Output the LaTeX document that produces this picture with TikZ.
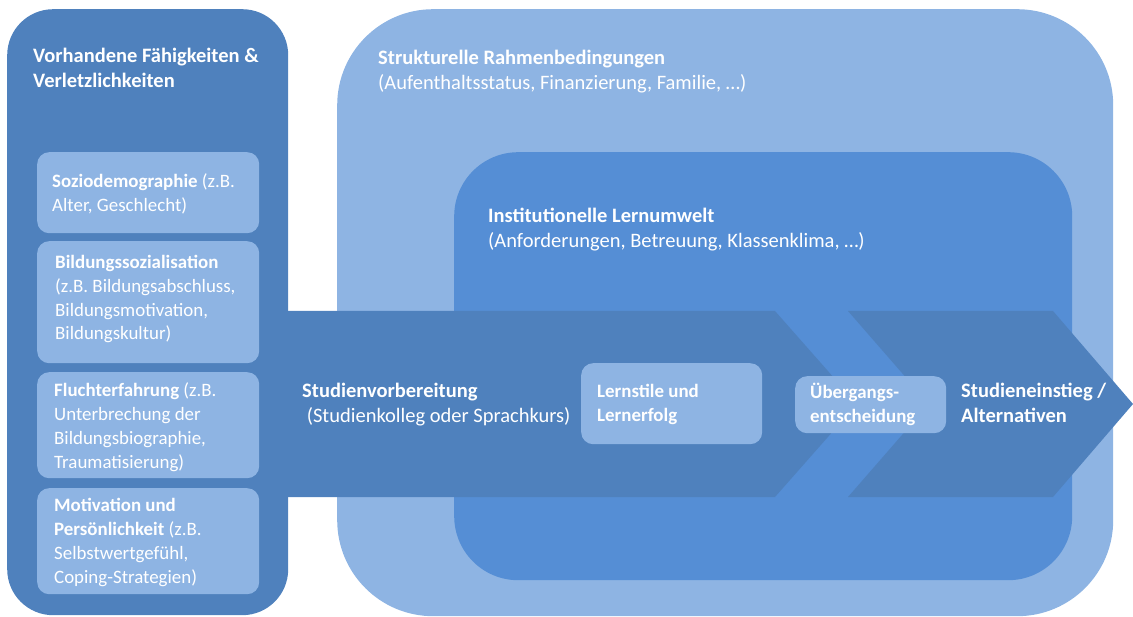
\documentclass[tikz,border=0pt]{standalone}
\usepackage{fontspec}
\setmainfont{Carlito}
\definecolor{darkblue}{HTML}{4F81BD}
\definecolor{midblue}{HTML}{558ED5}
\definecolor{lightblue}{HTML}{8EB4E3}
\begin{document}
\begin{tikzpicture}[x=1pt,y=-1pt,
  panel/.style={fill=#1, draw=none, inner sep=0pt, anchor=north west},
  smallbox/.style={fill=lightblue, draw=none, rounded corners=12pt, inner sep=0pt, anchor=north west},
  txt/.style={text=white, inner sep=0pt, anchor=base west, align=left, font=\fontsize{18.9}{23.7}\selectfont},
  ttl/.style={txt, font=\fontsize{20.5}{25.5}\selectfont}
]
\useasboundingbox (0,0) rectangle (1133,617);

% big panels
\node[panel=lightblue, rounded corners=96pt, minimum width=776pt, minimum height=607pt] (outer) at (337,9) {};
\node[panel=midblue, rounded corners=64pt, minimum width=618pt, minimum height=428pt] (inner) at (454,152) {};
\node[panel=darkblue, rounded corners=46pt, minimum width=281pt, minimum height=606pt] (left) at (7,9) {};

% arrows
\fill[darkblue] (282,311) coordinate (a1) -- (775,311) -- (857,404) coordinate (tip1) -- (775,497) -- (282,497) -- cycle;
\fill[darkblue] (848,311) -- (1053,311) -- (1133,404) coordinate (tip2) -- (1053,497) -- (848,497) -- (929,404) coordinate (notch) -- cycle;

% small boxes
\node[smallbox, minimum width=222pt, minimum height=81pt] (b1) at (37,152) {};
\node[smallbox, minimum width=222pt, minimum height=122pt] (b2) at (37,241) {};
\node[smallbox, minimum width=222pt, minimum height=106pt] (b3) at (37,372) {};
\node[smallbox, minimum width=222pt, minimum height=106pt] (b4) at (37,488) {};
\node[smallbox, minimum width=181pt, minimum height=81pt] (b5) at (581,363) {};
\node[smallbox, minimum width=151pt, minimum height=57pt] (b6) at (795,376) {};

% texts (anchor = baseline of last line)
\node[ttl] (tleft) at (33,88) {\textbf{Vorhandene Fähigkeiten \&}\\\textbf{Verletzlichkeiten}};
\node[txt] (t1) at (52,211.7) {\textbf{Soziodemographie} (z.B.\\Alter, Geschlecht)};
\node[txt] (t2) at (55,340) {\textbf{Bildungssozialisation}\\(z.B. Bildungsabschluss,\\Bildungsmotivation,\\Bildungskultur)};
\node[txt] (t3) at (54,468) {\textbf{Fluchterfahrung} (z.B.\\Unterbrechung der\\Bildungsbiographie,\\Traumatisierung)};
\node[txt] (t4) at (54,583) {\textbf{Motivation und}\\\textbf{Persönlichkeit} (z.B.\\Selbstwertgefühl,\\Coping-Strategien)};

\node[ttl] (touter) at (378,90) {\textbf{Strukturelle Rahmenbedingungen}\\(Aufenthaltsstatus, Finanzierung, Familie, …)};
\node[ttl] (tinner) at (488,248) {\textbf{Institutionelle Lernumwelt}\\(Anforderungen, Betreuung, Klassenklima, …)};
\node[ttl] (tarrow) at (302,423) {\textbf{Studienvorbereitung}\\\ (Studienkolleg oder Sprachkurs)};
\node[txt, font=\fontsize{18.9}{24}\selectfont] (t5) at (597,422) {\textbf{Lernstile und}\\\textbf{Lernerfolg}};
\node[txt, font=\fontsize{18.9}{24}\selectfont] (t6) at (810,423) {\textbf{Übergangs-}\\\textbf{entscheidung}};
\node[ttl] (t7) at (961,423) {\textbf{Studieneinstieg /}\\\textbf{Alternativen}};
\end{tikzpicture}
\end{document}
